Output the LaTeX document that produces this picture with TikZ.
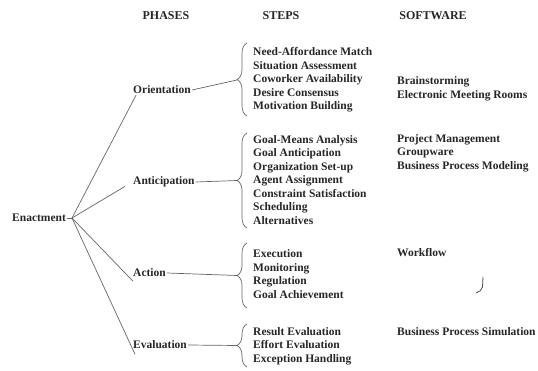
\documentclass[tikz,border=0pt]{standalone}
\usepackage{fontspec}
\setmainfont{Liberation Serif}
\usetikzlibrary{decorations.pathreplacing}
\begin{document}
\begin{tikzpicture}[x=1pt,y=-1pt,
  txt/.style={font=\fontsize{11.5}{13.5}\selectfont\bfseries, text=black!85, inner sep=1pt, anchor=west, align=left},
  head/.style={font=\fontsize{12}{14}\selectfont\bfseries, text=black!85, inner sep=1pt},
  conn/.style={draw=black!60, line width=0.7pt},
  bracestyle/.style={draw=black!60, line width=0.7pt, decorate, decoration={brace, amplitude=10pt}}
]
\useasboundingbox (0,0) rectangle (538,371);
% headers
\node[head] (hp) at (166,16) {PHASES};
\node[head] (hs) at (281,16) {STEPS};
\node[head] (hw) at (433,16) {SOFTWARE};
% root and phases
\node[txt] (root) at (11,218) {Enactment};
\node[txt] (ori) at (132,90) {Orientation};
\node[txt] (ant) at (132,182) {Anticipation};
\node[txt] (act) at (132,273) {Action};
\node[txt] (eva) at (132,345) {Evaluation};
% steps
\node[txt] (sori) at (252,80) {Need-Affordance Match\\Situation Assessment\\Coworker Availability\\Desire Consensus\\Motivation Building};
\node[txt] (sant) at (252,180) {Goal-Means Analysis\\Goal Anticipation\\Organization Set-up\\Agent Assignment\\Constraint Satisfaction\\Scheduling\\Alternatives};
\node[txt] (sact) at (252,274) {Execution\\Monitoring\\Regulation\\Goal Achievement};
\node[txt] (seva) at (252,346) {Result Evaluation\\Effort Evaluation\\Exception Handling};
% software
\node[txt] (wori) at (396,89) {Brainstorming\\Electronic Meeting Rooms};
\node[txt] (want) at (396,153) {Project Management\\Groupware\\Business Process Modeling};
\node[txt] (wact) at (396,253) {Workflow};
\node[txt] (weva) at (396,332) {Business Process Simulation};
% braces
\draw[bracestyle] (247,116) -- (247,43) coordinate[pos=0.5] (bori);
\draw[bracestyle] (247,228) -- (247,133) coordinate[pos=0.5] (bant);
\draw[bracestyle] (247,308) -- (247,243) coordinate[pos=0.5] (bact);
\draw[bracestyle] (247,367) -- (247,324) coordinate[pos=0.5] (beva);
\coordinate (tori) at (237,80);
\coordinate (tant) at (237,180.5);
\coordinate (tact) at (237,275.5);
\coordinate (teva) at (237,345.5);
% connectors
\coordinate (hub) at (72,218);
\draw[conn] (root.east) -- (hub);
\draw[conn] (hub) -- ([xshift=4pt]ori.south west);
\draw[conn] (hub) -- ([xshift=-7pt,yshift=2pt]ant.south west);
\draw[conn] (hub) -- ([xshift=1pt,yshift=-3pt]act.south west);
\draw[conn] (hub) -- ([xshift=3pt,yshift=-4pt]eva.south west);
\draw[conn] (ori.east) -- (tori);
\draw[conn] (ant.east) -- (tant);
\draw[conn] (act.east) -- (tact);
\draw[conn] (eva.east) -- (teva);
% scan mark
\draw[black!70, line width=0.8pt] (483,277) -- (482.5,287) .. controls (482,290) and (479,292) .. (476,293);
\end{tikzpicture}
\end{document}
